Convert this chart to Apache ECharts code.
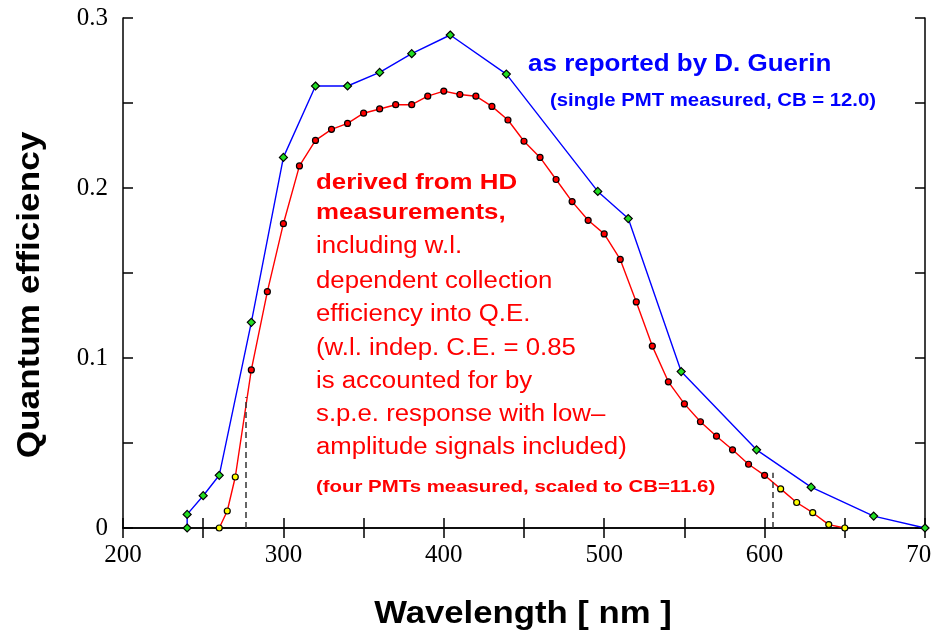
<!DOCTYPE html>
<html>
<head>
<meta charset="utf-8">
<script src="https://cdn.jsdelivr.net/npm/echarts@6/dist/echarts.min.js"></script>
<style>
  html, body { margin: 0; padding: 0; background: #fff; }
  #chart { width: 932px; height: 639px; }
</style>
</head>
<body>
<div id="chart"></div>
<script>
// Guerin measurement (blue, green diamonds)
const guerinX = [240, 240, 250, 260, 280, 300, 320, 340, 360, 380, 404, 439, 496, 515, 548, 595, 629, 668, 700]
const guerinQE = [0, 0.008, 0.019, 0.031, 0.121, 0.218, 0.260, 0.260, 0.268, 0.279, 0.290, 0.267, 0.198, 0.182, 0.092, 0.046, 0.024, 0.007, 0]

// HD derived (red)
const hdX = [260, 265, 270, 280, 290, 300, 310, 320, 330, 340, 350, 360, 370, 380, 390, 400, 410, 420, 430, 440,
  450, 460, 470, 480, 490, 500, 510, 520, 530, 540, 550, 560, 570, 580, 590, 600, 610, 620, 630, 640, 650]
const hdQE = [0, 0.010, 0.030, 0.093, 0.139, 0.179, 0.213, 0.228, 0.2345, 0.238, 0.244, 0.2465, 0.249, 0.249, 0.254,
  0.257, 0.255, 0.254, 0.248, 0.240, 0.2275, 0.218, 0.205, 0.192, 0.181, 0.173, 0.158, 0.133, 0.107, 0.086,
  0.073, 0.0625, 0.054, 0.046, 0.0375, 0.031, 0.023, 0.015, 0.009, 0.002, 0]

// range limits shown as dashed lines (wavelength, top of line)
const cutLow = [276.5, 0.077]
const cutHigh = [605, 0.0325]

const xTicks = [200, 300, 400, 500, 600, 700]
const yTicks = [0, 0.1, 0.2, 0.3]

const sans = '"Liberation Sans", Arial, sans-serif'
const serif = '"Liberation Serif", "Times New Roman", serif'

const chart = echarts.init(document.getElementById('chart'))

const tickStyle = {show: true, inside: true, length: 10, lineStyle: {color: '#000', width: 1.5}}
const lineStyle = {show: true, lineStyle: {color: '#000', width: 1.5}}

const hdData = hdX.map((x, i) => {
  const outside = x < cutLow[0] || x > cutHigh[0]
  return {value: [x, hdQE[i]], itemStyle: {color: outside ? '#ffff00' : '#ff0000'}}
})

// text helper: font size set from glyph height, sx stretches to the wide original lettering
const label = (text, x, y, color, font, sx) => ({
  type: 'text', x: x, y: y, scaleX: sx || 1,
  style: {text: text, fill: color, font: font, verticalAlign: 'middle'}
})

const option = {
  animation: false,
  grid: {left: 123, top: 18, right: 7, bottom: 111, containLabel: false, outerBoundsMode: 'none'},
  xAxis: [
    {
      type: 'value', min: 200, max: 700, interval: 50,
      axisLine: lineStyle, axisTick: tickStyle, splitLine: {show: false},
      axisLabel: {
        margin: 15, color: '#000', fontFamily: serif, fontSize: 25,
        formatter: (v) => xTicks.includes(v) ? String(v) : ''
      }
    },
    {
      type: 'value', position: 'top', min: 200, max: 700, interval: 50,
      axisLine: lineStyle, axisTick: tickStyle, axisLabel: {show: false}, splitLine: {show: false}
    }
  ],
  yAxis: [
    {
      type: 'value', min: 0, max: 0.3, interval: 0.05,
      axisLine: lineStyle, axisTick: tickStyle, splitLine: {show: false},
      axisLabel: {
        margin: 15, color: '#000', fontFamily: serif, fontSize: 25,
        formatter: (v) => {
          const r = Math.round(v * 100) / 100
          return yTicks.some(t => Math.abs(t - r) < 1e-6) ? String(r) : ''
        }
      }
    },
    {
      type: 'value', position: 'right', min: 0, max: 0.3, interval: 0.05,
      axisLine: lineStyle, axisTick: tickStyle, axisLabel: {show: false}, splitLine: {show: false}
    }
  ],
  series: [
    {
      name: 'Guerin',
      type: 'line',
      data: guerinX.map((x, i) => [x, guerinQE[i]]),
      symbol: 'diamond',
      symbolSize: 8,
      lineStyle: {color: '#0000ff', width: 1.4},
      itemStyle: {color: '#22dd22', borderColor: '#000', borderWidth: 1.2},
      z: 3
    },
    {
      name: 'HD',
      type: 'line',
      data: hdData,
      symbol: 'circle',
      symbolSize: 6,
      lineStyle: {color: '#ff0000', width: 1.4},
      itemStyle: {color: '#ff0000', borderColor: '#000', borderWidth: 1.2},
      z: 4,
      markLine: {
        silent: true,
        symbol: 'none',
        label: {show: false},
        lineStyle: {color: '#333', type: [6, 4], width: 1.5},
        data: [
          [{coord: [cutLow[0], 0]}, {coord: [cutLow[0], cutLow[1]]}],
          [{coord: [cutHigh[0], 0]}, {coord: [cutHigh[0], cutHigh[1]]}]
        ]
      }
    }
  ],
  graphic: [
    {type: 'text', x: 523, y: 614, scaleX: 1.12,
      style: {text: 'Wavelength [ nm ]', fill: '#000', font: 'bold 31px ' + sans, align: 'center', verticalAlign: 'middle'}},
    {type: 'text', x: 30, y: 295, rotation: Math.PI / 2, scaleX: 1.1,
      style: {text: 'Quantum efficiency', fill: '#000', font: 'bold 32px ' + sans, align: 'center', verticalAlign: 'middle'}},
    label('as reported by D. Guerin', 528, 65, '#0000ff', 'bold 23px ' + sans, 1.13),
    label('(single PMT measured, CB = 12.0)', 550, 101, '#0000ff', 'bold 18px ' + sans, 1.13),
    label('derived from HD', 316, 183, '#ff0000', 'bold 22px ' + sans, 1.175),
    label('measurements,', 316, 213, '#ff0000', 'bold 22px ' + sans, 1.175),
    label('including w.l.', 316, 247, '#ff0000', '23px ' + sans, 1.12),
    label('dependent collection', 316, 282, '#ff0000', '23px ' + sans, 1.12),
    label('efficiency into Q.E.', 316, 315, '#ff0000', '23px ' + sans, 1.12),
    label('(w.l. indep. C.E. = 0.85', 316, 349, '#ff0000', '23px ' + sans, 1.12),
    label('is accounted for by', 316, 382, '#ff0000', '23px ' + sans, 1.12),
    label('s.p.e. response with low\u2013', 316, 415, '#ff0000', '23px ' + sans, 1.12),
    label('amplitude signals included)', 316, 448, '#ff0000', '23px ' + sans, 1.12),
    label('(four PMTs measured, scaled to CB=11.6)', 316, 487, '#ff0000', 'bold 17px ' + sans, 1.2)
  ]
}

chart.setOption(option)
</script>
</body>
</html>
